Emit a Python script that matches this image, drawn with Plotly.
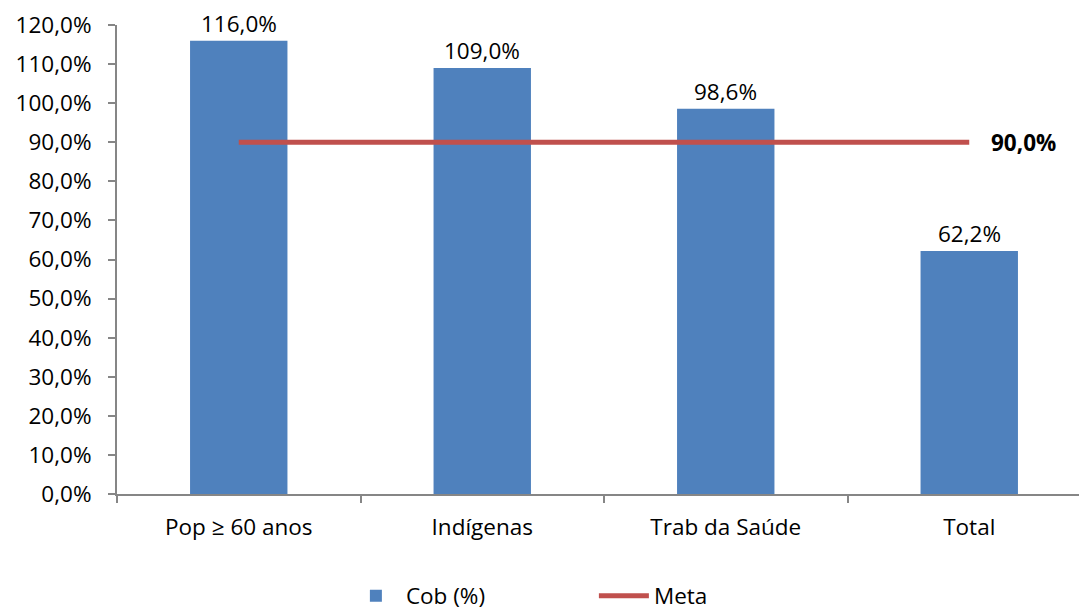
import plotly.graph_objects as go

categories = ["Pop ≥ 60 anos", "Indígenas", "Trab da Saúde", "Total"]
cob_values = [116.0, 109.0, 98.6, 62.2]
meta_values = [90.0, 90.0, 90.0, 90.0]
y_ticks = [0, 10, 20, 30, 40, 50, 60, 70, 80, 90, 100, 110, 120]

def fmt(v):
    return f"{v:.1f}".replace(".", ",") + "%"

FONT = "Open Sans, Lato, Liberation Sans, sans-serif"
FS = 22.5
AXIS_COLOR = "#868686"

fig = go.Figure()
fig.add_trace(go.Bar(
    x=categories, y=cob_values, name="Cob (%)",
    marker=dict(color="#4F81BD", line=dict(width=0)),
))
fig.add_trace(go.Scatter(
    x=categories, y=meta_values, name="Meta", mode="lines",
    line=dict(color="#C0504D", width=5),
))
for c, v in zip(categories, cob_values):
    fig.add_annotation(
        x=c, y=v, text=fmt(v), showarrow=False, yanchor="bottom", yshift=1,
        borderpad=0,
        font=dict(size=FS, color="black", family=FONT),
    )
fig.add_annotation(
    x=categories[-1], y=meta_values[-1], text="<b>" + fmt(meta_values[-1]) + "</b>",
    showarrow=False, xanchor="left", xshift=20,
    font=dict(size=FS, color="black", family=FONT),
)

fig.update_layout(
    width=1087, height=610,
    margin=dict(l=109, r=4, t=17, b=124, autoexpand=False),
    paper_bgcolor="white", plot_bgcolor="white",
    font=dict(family=FONT, size=FS, color="black"),
    bargap=0.6,
    showlegend=True,
    legend=dict(orientation="h", x=0.235, xanchor="left",
                y=-0.2175, yanchor="middle", font=dict(size=FS),
                entrywidth=183, entrywidthmode="pixels",
                itemwidth=50, traceorder="normal"),
    xaxis=dict(showline=True, linecolor=AXIS_COLOR, linewidth=2,
               ticks="outside", tickcolor=AXIS_COLOR, ticklen=7, tickwidth=2,
               tickson="boundaries", showgrid=False, tickangle=0,
               ticklabelstandoff=12,
               automargin=False,
               tickfont=dict(size=FS, color="black")),
    yaxis=dict(range=[0, 120], tickvals=y_ticks,
               ticktext=[fmt(v) for v in y_ticks],
               showline=True, linecolor=AXIS_COLOR, linewidth=2,
               ticks="outside", tickcolor=AXIS_COLOR, ticklen=7, tickwidth=2,
               ticklabelstandoff=12,
               showgrid=False, zeroline=False, automargin=False,
               tickfont=dict(size=FS, color="black")),
)

fig.write_html("out.html")
